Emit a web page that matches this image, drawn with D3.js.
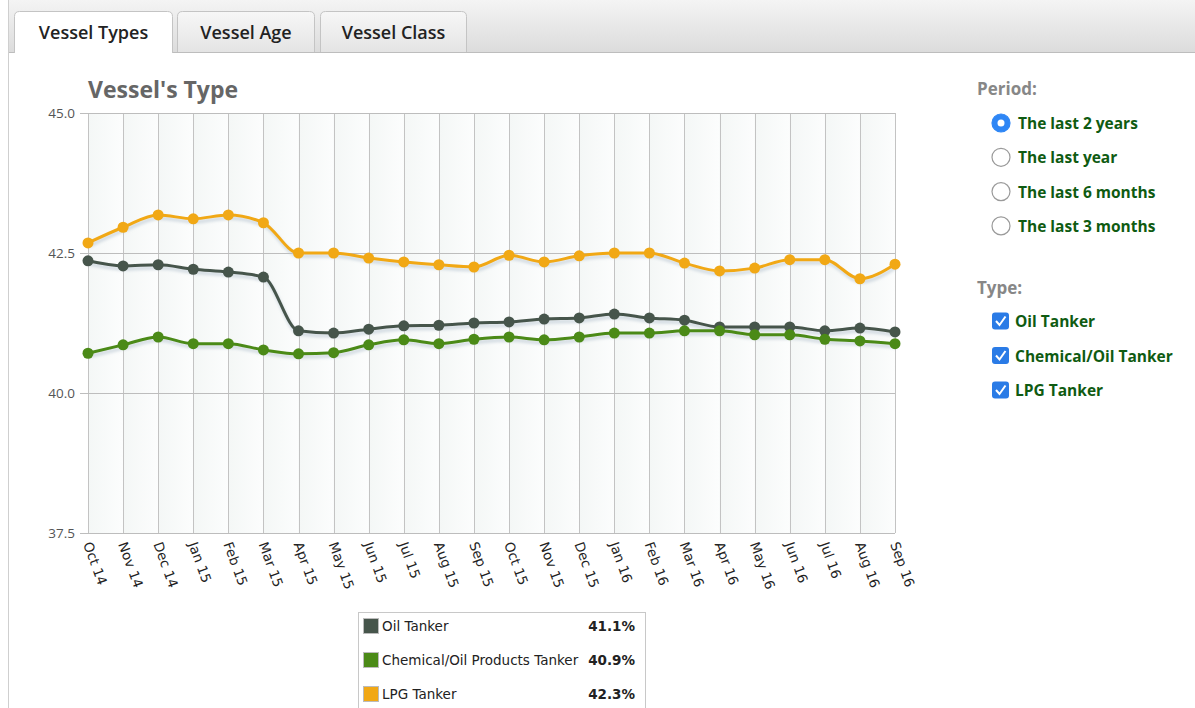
<!DOCTYPE html>
<html>
<head>
<meta charset="utf-8">
<script src="https://cdn.jsdelivr.net/npm/d3@7"></script>
<style>
  body { margin: 0; background: #fff; }
  svg { display: block; }
</style>
</head>
<body>
<svg width="1195" height="708"></svg>
<script>
const months = ["Oct 14", "Nov 14", "Dec 14", "Jan 15", "Feb 15", "Mar 15", "Apr 15", "May 15",
    "Jun 15", "Jul 15", "Aug 15", "Sep 15", "Oct 15", "Nov 15", "Dec 15", "Jan 16",
    "Feb 16", "Mar 16", "Apr 16", "May 16", "Jun 16", "Jul 16", "Aug 16", "Sep 16"];

const oilTanker = [42.36, 42.27, 42.29, 42.21, 42.16, 42.07, 41.11, 41.07, 41.14, 41.20, 41.21, 41.25,
    41.27, 41.32, 41.34, 41.41, 41.34, 41.30, 41.18, 41.18, 41.18, 41.11, 41.16, 41.09];
const chemTanker = [40.71, 40.86, 41.00, 40.88, 40.88, 40.77, 40.70, 40.72, 40.86, 40.95, 40.88, 40.96,
    41.00, 40.95, 41.00, 41.07, 41.07, 41.11, 41.11, 41.04, 41.04, 40.96, 40.93, 40.88];
const lpgTanker = [42.68, 42.96, 43.18, 43.11, 43.18, 43.04, 42.50, 42.50, 42.41, 42.34, 42.29, 42.25,
    42.46, 42.34, 42.45, 42.50, 42.50, 42.32, 42.18, 42.23, 42.38, 42.38, 42.04, 42.30];

const yTicks = [37.5, 40.0, 42.5, 45.0];
const tabNames = ["Vessel Types", "Vessel Age", "Vessel Class"];
const periods = ["The last 2 years", "The last year", "The last 6 months", "The last 3 months"];
const typeNames = ["Oil Tanker", "Chemical/Oil Tanker", "LPG Tanker"];

const series = [
    {name: "Oil Tanker", values: oilTanker, color: "#46554b", label: "41.1%"},
    {name: "Chemical/Oil Products Tanker", values: chemTanker, color: "#4b8a17", label: "40.9%"},
    {name: "LPG Tanker", values: lpgTanker, color: "#f1a815", label: "42.3%"}
];

const svg = d3.select("svg");
const font = "'Open Sans', 'Noto Sans', sans-serif";

// --- tab strip ---
const defs = svg.append("defs");
const tg = defs.append("linearGradient").attr("id", "tabbar").attr("x1", 0).attr("y1", 0).attr("x2", 0).attr("y2", 1);
tg.append("stop").attr("offset", "0%").attr("stop-color", "#f4f4f4");
tg.append("stop").attr("offset", "100%").attr("stop-color", "#dcdcdc");
const tg2 = defs.append("linearGradient").attr("id", "tabbg").attr("x1", 0).attr("y1", 0).attr("x2", 0).attr("y2", 1);
tg2.append("stop").attr("offset", "0%").attr("stop-color", "#f7f7f7");
tg2.append("stop").attr("offset", "100%").attr("stop-color", "#e4e4e4");
const sh = defs.append("filter").attr("id", "shadow").attr("x", "-5%").attr("y", "-20%").attr("width", "110%").attr("height", "140%");
sh.append("feGaussianBlur").attr("stdDeviation", 1.5);

svg.append("rect").attr("x", 9).attr("y", 0).attr("width", 1186).attr("height", 52).attr("fill", "url(#tabbar)");
svg.append("line").attr("x1", 9).attr("x2", 1195).attr("y1", 52.5).attr("y2", 52.5).attr("stroke", "#bdbdbd");
svg.append("line").attr("x1", 8.5).attr("x2", 8.5).attr("y1", 0).attr("y2", 708).attr("stroke", "#cfcfcf");

const tabs = [{x: 14, w: 159}, {x: 177, w: 138}, {x: 320, w: 147}];
tabs.forEach((t, i) => {
    const active = i === 0;
    svg.append("path")
        .attr("d", `M${t.x + 0.5},${active ? 53 : 52}V16.5Q${t.x + 0.5},11.5 ${t.x + 5.5},11.5H${t.x + t.w - 5.5}Q${t.x + t.w - 0.5},11.5 ${t.x + t.w - 0.5},16.5V${active ? 53 : 52}`)
        .attr("fill", active ? "#fff" : "url(#tabbg)")
        .attr("stroke", "#c4c4c4");
    svg.append("text")
        .attr("x", t.x + t.w / 2).attr("y", 39)
        .attr("text-anchor", "middle")
        .attr("font-family", font).attr("font-size", 18).attr("font-weight", 600)
        .attr("fill", "#222")
        .text(tabNames[i]);
});

// --- chart ---
const margin = {left: 88, top: 113, right: 895, bottom: 533};
const x = d3.scalePoint().domain(months).range([margin.left, margin.right]);
const y = d3.scaleLinear().domain([37.5, 45]).range([margin.bottom, margin.top]);

svg.append("text")
    .attr("x", 88).attr("y", 98)
    .attr("font-family", font).attr("font-size", 23).attr("font-weight", 700)
    .attr("fill", "#666")
    .text("Vessel's Type");

const bg = defs.append("linearGradient").attr("id", "colbg").attr("x1", 0).attr("y1", 0).attr("x2", 1).attr("y2", 0);
bg.append("stop").attr("offset", "0%").attr("stop-color", "#f4f7f6");
bg.append("stop").attr("offset", "100%").attr("stop-color", "#fcfdfd");
const step = x.step();
svg.append("g").selectAll("rect")
    .data(months.slice(0, -1))
    .join("rect")
    .attr("x", d => x(d)).attr("y", margin.top)
    .attr("width", step).attr("height", margin.bottom - margin.top)
    .attr("fill", "url(#colbg)");

// vertical grid
svg.append("g").selectAll("line")
    .data(months)
    .join("line")
    .attr("x1", d => Math.round(x(d)) + 0.5).attr("x2", d => Math.round(x(d)) + 0.5)
    .attr("y1", margin.top).attr("y2", margin.bottom)
    .attr("stroke", "#c3c3c3");

// horizontal grid
svg.append("g").selectAll("line")
    .data(yTicks)
    .join("line")
    .attr("x1", 80).attr("x2", margin.right)
    .attr("y1", d => Math.round(y(d)) + 0.5).attr("y2", d => Math.round(y(d)) + 0.5)
    .attr("stroke", "#bdbdbd");

svg.append("g").selectAll("text")
    .data(yTicks)
    .join("text")
    .attr("x", 75).attr("y", d => y(d) + 5)
    .attr("text-anchor", "end")
    .attr("font-family", font).attr("font-size", 13.5)
    .attr("fill", "#555")
    .text(d => d3.format(".1f")(d));

// x labels
svg.append("g").selectAll("text")
    .data(months)
    .join("text")
    .attr("transform", d => `translate(${x(d) - 5},${margin.bottom + 11}) rotate(70)`)
    .attr("font-family", "'DejaVu Sans', sans-serif").attr("font-size", 13.5)
    .attr("fill", "#222")
    .text(d => d);

const line = d3.line().x((d, i) => x(months[i])).y(d => y(d)).curve(d3.curveMonotoneX);

series.forEach(s => {
    const g = svg.append("g");
    g.append("path")
        .attr("d", line(s.values))
        .attr("transform", "translate(1,3)")
        .attr("fill", "none").attr("stroke", "#b8c4d0").attr("stroke-opacity", 0.6)
        .attr("stroke-width", 3.5).attr("filter", "url(#shadow)");
    g.append("path")
        .attr("d", line(s.values))
        .attr("fill", "none").attr("stroke", s.color).attr("stroke-width", 3);
    g.selectAll("circle")
        .data(s.values)
        .join("circle")
        .attr("cx", (d, i) => x(months[i])).attr("cy", d => y(d))
        .attr("r", 5.5).attr("fill", s.color);
});

// --- legend ---
const lg = svg.append("g");
lg.append("rect").attr("x", 358.5).attr("y", 612.5).attr("width", 287).attr("height", 110)
    .attr("fill", "#fff").attr("stroke", "#c8c8c8");
series.forEach((s, i) => {
    const cy = 626 + i * 34;
    lg.append("rect").attr("x", 363.5).attr("y", cy - 7.5).attr("width", 15).attr("height", 15)
        .attr("fill", s.color).attr("stroke", "#bbb");
    lg.append("text").attr("x", 382).attr("y", cy + 5)
        .attr("font-family", "'DejaVu Sans', sans-serif").attr("font-size", 13.5).attr("fill", "#222")
        .text(s.name);
    lg.append("text").attr("x", 635).attr("y", cy + 5).attr("text-anchor", "end")
        .attr("font-family", "'DejaVu Sans', sans-serif").attr("font-size", 13.5).attr("font-weight", 700)
        .attr("fill", "#222")
        .text(s.label);
});

// --- side panel ---
const side = svg.append("g").attr("font-family", font);
side.append("text").attr("x", 977).attr("y", 95)
    .attr("font-size", 17).attr("font-weight", 700).attr("fill", "#878787").text("Period:");
periods.forEach((p, i) => {
    const cy = 123 + i * 34.3;
    side.append("circle").attr("cx", 1001).attr("cy", cy).attr("r", 9)
        .attr("fill", i === 0 ? "#2e86f5" : "#fff")
        .attr("stroke", i === 0 ? "#2e86f5" : "#9a9a9a").attr("stroke-width", 1.2);
    if (i === 0) side.append("circle").attr("cx", 1001).attr("cy", cy).attr("r", 3.5).attr("fill", "#fff");
    side.append("text").attr("x", 1018).attr("y", cy + 6)
        .attr("font-size", 15.5).attr("font-weight", 700).attr("fill", "#0f5b12").text(p);
});
side.append("text").attr("x", 977).attr("y", 294)
    .attr("font-size", 17).attr("font-weight", 700).attr("fill", "#878787").text("Type:");
typeNames.forEach((t, i) => {
    const cy = 321 + i * 34.5;
    side.append("rect").attr("x", 992).attr("y", cy - 8.5).attr("width", 17).attr("height", 17).attr("rx", 3)
        .attr("fill", "#2a7be6");
    side.append("path").attr("d", `M996,${cy} L999.5,${cy + 4} L1005.5,${cy - 4.5}`)
        .attr("fill", "none").attr("stroke", "#fff").attr("stroke-width", 2);
    side.append("text").attr("x", 1015).attr("y", cy + 6)
        .attr("font-size", 15.5).attr("font-weight", 700).attr("fill", "#0f5b12").text(t);
});
</script>
</body>
</html>
